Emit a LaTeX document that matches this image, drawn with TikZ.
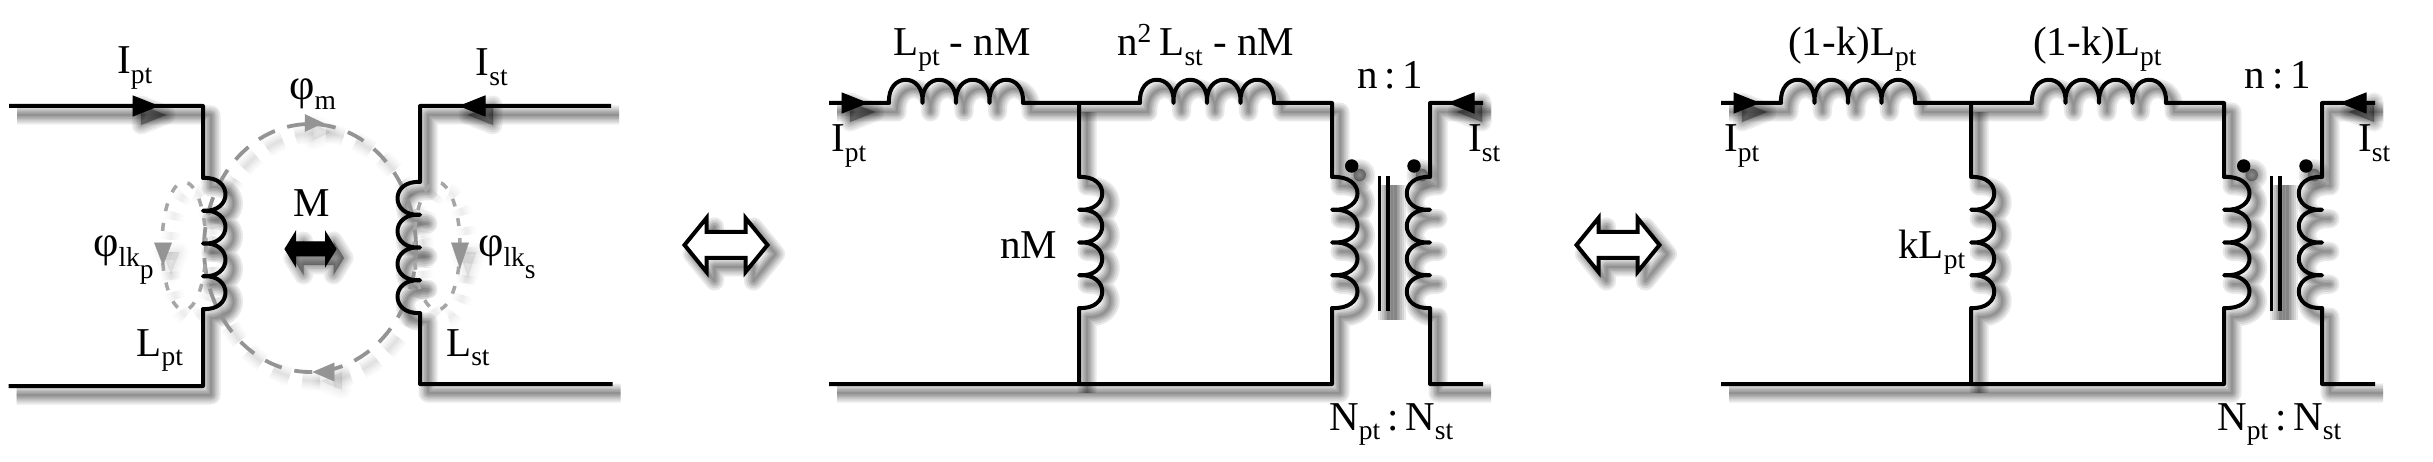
\documentclass[tikz,border=0pt]{standalone}
\usepackage{fontspec}
\setmainfont{Liberation Serif}
\newcommand\sbt[1]{\raisebox{-9.5pt}{\fontsize{27.5}{27.5}\selectfont #1}}
\newcommand\sbb[1]{\raisebox{-12pt}{#1}}
\newcommand\spt[1]{\raisebox{13pt}{\fontsize{27.5}{27.5}\selectfont #1}}
\newcommand\phisym{{\fontsize{44}{44}\selectfont φ}}
% vertical coil of four humps from the current point; #1 = signed bulge control
\newcommand\vcoil[1]{.. controls +(#1,-2) and +(#1,2) .. ++(0,32.75) .. controls +(#1,-2) and +(#1,2) .. ++(0,32.75) .. controls +(#1,-2) and +(#1,2) .. ++(0,32.75) .. controls +(#1,-2) and +(#1,2) .. ++(0,32.75)}
\newcommand\hcoil{.. controls +(-2,-31) and +(2,-31) .. ++(33.5,0) .. controls +(-2,-31) and +(2,-31) .. ++(33.5,0) .. controls +(-2,-31) and +(2,-31) .. ++(33.5,0) .. controls +(-2,-31) and +(2,-31) .. ++(33.5,0)}
\newcommand\headR[1]{\path[solidhead] (#1) -- ++(-25,-10) -- ++(0,20) -- cycle;}
\newcommand\headL[1]{\path[solidhead] (#1) -- ++(25,-10) -- ++(0,20) -- cycle;}
\newcommand\dblarrow[1]{\path[outlinehead] (#1) -- ++(22,-27) -- ++(0,14) -- ++(39,0) -- ++(0,-14) -- ++(22,27) -- ++(-22,27) -- ++(0,-14) -- ++(-39,0) -- ++(0,14) -- cycle;}
% left-hand panel
\newcommand\panelone{%
  \coordinate (ptl) at (9,106); \coordinate (ptc) at (203,106); \coordinate (pcs) at (203,178);
  \coordinate (pbc) at (203,386); \coordinate (pbl) at (8.5,386);
  \coordinate (str) at (611,106); \coordinate (stc) at (420,106); \coordinate (scs) at (420,182);
  \coordinate (sbc) at (420,384); \coordinate (sbr) at (612.5,384);
  \coordinate (hp) at (158,106); \coordinate (hs) at (460,106);
  \coordinate (fc) at (310,248); \coordinate (flp) at (184,246); \coordinate (fls) at (437,246);
  \path[bigflux] (fc) ellipse [x radius=106pt, y radius=124pt];
  \path[smallflux] (flp) ellipse [x radius=22pt, y radius=64pt];
  \path[smallflux] (fls) ellipse [x radius=23pt, y radius=64pt];
  \path[grayhead] (323,123) -- (305,114.5) -- (305,131.5) -- cycle;
  \path[grayhead] (313,372) -- (334,363) -- (334,381) -- cycle;
  \path[grayhead] (163,265) -- (154.5,243) -- (171.5,243) -- cycle;
  \path[grayhead] (460,268) -- (451.5,243) -- (468.5,243) -- cycle;
  \path[wire] (ptl) -- (ptc) -- (pcs) \vcoil{30} -- (pbc) -- (pbl);
  \path[wire] (str) -- (stc) -- (scs) \vcoil{-30} -- (sbc) -- (sbr);
  \headR{hp} \headL{hs}
  \path[solidhead] (285,249) -- (295.5,232) -- (295.5,242) -- (325.5,242) -- (325.5,232) -- (336,249) -- (325.5,266) -- (325.5,256) -- (295.5,256) -- (295.5,266) -- cycle;
}
% equivalent circuit, in the coordinates of the middle panel
\newcommand\circuit{%
  \coordinate (tl) at (829,103); \coordinate (c1) at (889,103); \coordinate (j) at (1079,103);
  \coordinate (c2) at (1140,103); \coordinate (pt) at (1332,103); \coordinate (pc) at (1332,177);
  \coordinate (pb) at (1332,384); \coordinate (bl) at (829,384); \coordinate (mc) at (1079,177);
  \coordinate (mb) at (1079,384); \coordinate (tr) at (1483,103); \coordinate (st) at (1430,103);
  \coordinate (sc) at (1430,177); \coordinate (sb) at (1430,384); \coordinate (br) at (1483,384);
  \coordinate (hl) at (867,103); \coordinate (hr) at (1449,103);
  \coordinate (k1t) at (1379.5,176); \coordinate (k1b) at (1379.5,311);
  \coordinate (k2t) at (1388,176); \coordinate (k2b) at (1388,311);
  \path[wire] (tl) -- (c1) \hcoil -- (j) -- (c2) \hcoil -- (pt) -- (pc) \vcoil{34} -- (pb) -- (bl);
  \path[wire] (j) -- (mc) \vcoil{31} -- (mb);
  \path[wire] (tr) -- (st) -- (sc) \vcoil{-31} -- (sb) -- (br);
  \path[corewire] (k1t) -- (k1b);
  \path[corewire] (k2t) -- (k2b);
  \path[solidhead] (1351.7,166) circle [radius=6.2pt];
  \path[solidhead] (1414,166) circle [radius=6.2pt];
  \headR{hl} \headL{hr}
}
\tikzset{
  wire/.style={draw=black,line width=4pt,line join=round},
  corewire/.style={draw=black,line width=3.5pt},
  solidhead/.style={fill=black,draw=black,line width=1pt},
  grayhead/.style={fill=black!42,draw=black!42,line width=.5pt},
  outlinehead/.style={draw=black,fill=white,line width=4pt,line join=miter},
  bigflux/.style={draw=black!42,line width=3.8pt,dash pattern=on 18pt off 13pt},
  smallflux/.style={draw=black!35,line width=3.5pt,dash pattern=on 8pt off 12pt},
  lab/.style={anchor=base west,inner sep=0pt,font=\fontsize{41}{41}\selectfont},
}
\begin{document}
\begin{tikzpicture}[x=1pt,y=-1pt]
\useasboundingbox[fill=white] (0,0) rectangle (2433,462);
% soft drop shadows
\foreach \w in {19,15,11,8,5,2}{
  \begin{scope}[shift={(8,9)},
    wire/.style={draw=black,opacity=.085,line width=\w pt,line join=round},
    corewire/.style={draw=black,opacity=.085,line width=\w pt},
    solidhead/.style={fill=black,draw=black,opacity=.07,line width=\w pt,line join=round},
    grayhead/.style={fill=black,draw=black,opacity=.012,line width=\w pt,line join=round},
    outlinehead/.style={draw=black,opacity=.085,line width=\w pt,line join=round},
    bigflux/.style={draw=black,opacity=.02,line width=\w pt,dash pattern=on 18pt off 13pt},
    smallflux/.style={draw=black,opacity=.012,line width=\w pt,dash pattern=on 8pt off 12pt}]
    \panelone
    \begin{scope}[name prefix=b-] \coordinate (da) at (684.5,245); \dblarrow{da} \circuit \end{scope}
    \begin{scope}[name prefix=c-,shift={(892,0)}] \coordinate (da) at (684.5,245); \dblarrow{da} \circuit \end{scope}
  \end{scope}
}
% drawing
\panelone
\begin{scope}[name prefix=b-] \coordinate (da) at (684.5,245); \dblarrow{da} \circuit \end{scope}
\begin{scope}[name prefix=c-,shift={(892,0)}] \coordinate (da) at (684.5,245); \dblarrow{da} \circuit \end{scope}
% labels, left panel
\node[lab] (a1) at (117,74) {I\sbt{pt}};
\node[lab] (a2) at (475.5,76) {I\sbt{st}};
\node[lab] (a3) at (289,100) {\phisym\sbt{m}};
\node[lab] (a4) at (293,217) {M};
\node[lab] (a5) at (93,257) {\phisym\sbt{lk\sbb{p}}};
\node[lab] (a6) at (478,257) {\phisym\sbt{lk\sbb{s}}};
\node[lab] (a7) at (136.5,356) {L\sbt{pt}};
\node[lab] (a8) at (446,356) {L\sbt{st}};
% labels, middle panel
\node[lab] (b1) at (893,56) {L\sbt{pt} - nM};
\node[lab] (b2) at (1117,56) {n\spt{2}\kern8pt L\sbt{st} - nM};
\node[lab] (b3) at (1357,89) {n\,:\,1};
\node[lab] (b4) at (831,152) {I\sbt{pt}};
\node[lab] (b5) at (1468,152) {I\sbt{st}};
\node[lab] (b6) at (1000,259) {nM};
\node[lab] (b7) at (1329,430) {N\sbt{pt}\,:\,N\sbt{st}};
% labels, right panel
\node[lab] (c1) at (1788,56) {(1-k)L\sbt{pt}};
\node[lab] (c2) at (2033,56) {(1-k)L\sbt{pt}};
\node[lab] (c3) at (2244.5,89) {n\,:\,1};
\node[lab] (c4) at (1724,152) {I\sbt{pt}};
\node[lab] (c5) at (2358,152) {I\sbt{st}};
\node[lab] (c6) at (1898,259) {kL\sbt{pt}};
\node[lab] (c7) at (2217,430) {N\sbt{pt}\,:\,N\sbt{st}};
\end{tikzpicture}
\end{document}
